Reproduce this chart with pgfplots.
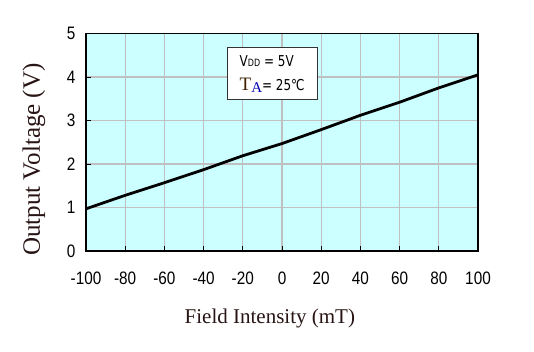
\documentclass[border=0pt]{standalone}
\usepackage{pgfplots}
\pgfplotsset{compat=1.18}
\usepackage{fontspec}
\setmainfont{Liberation Serif}
\newfontfamily\tickfont[FakeStretch=0.85]{Liberation Sans}
\newfontfamily\boxfont[FakeStretch=0.8]{DejaVu Sans}
\definecolor{plotbg}{RGB}{204,255,255}
\definecolor{gridgray}{RGB}{192,192,192}
\definecolor{labelc}{RGB}{40,20,20}
\begin{document}
\begin{tikzpicture}
\path[use as bounding box] (0pt,0pt) rectangle (534pt,-351pt);
\begin{axis}[
  at={(86pt,-251pt)}, anchor=south west,
  scale only axis, width=392pt, height=217.5pt,
  xmin=-100, xmax=100, ymin=0, ymax=5,
  xtick={-100,-80,...,100}, ytick={0,1,2,3,4,5},
  axis background/.style={fill=plotbg},
  grid=major, major grid style={gridgray, line width=1.2pt},
  axis line style={black, line width=1.2pt},
  tick style={black, line width=1pt}, major tick length=5pt,
  tick align=inside,
  xtick pos=bottom, ytick pos=left,
  /pgf/number format/assume math mode=true,
  tick label style={font=\tickfont\fontsize{18}{20}\selectfont, text=black},
  x tick label style={anchor=center, yshift=-27pt},
  y tick label style={xshift=-7pt},
  xlabel={Field Intensity (mT)},
  ylabel={Output Voltage (V)},
  xlabel style={font=\fontsize{21}{24}\selectfont, text=labelc, at={(axis description cs:0.469,0)}, anchor=center, yshift=-67pt},
  ylabel style={font=\fontsize{25}{28}\selectfont, text=labelc, at={(axis description cs:0,0.42)}, anchor=center, yshift=52pt},
  clip=false,
]
\addplot[black, line width=2.8pt, line join=round] coordinates {
(-100,0.97) (-80,1.28) (-60,1.57) (-40,1.87) (-20,2.19) (0,2.47)
(20,2.79) (40,3.12) (60,3.42) (80,3.75) (100,4.05)
};
\node[draw=black!80, line width=1pt, fill=white, minimum width=90pt, minimum height=52pt, inner sep=0pt, align=left, font=\boxfont\fontsize{15}{25}\selectfont] at (axis cs:-5,4.07) {%
  V\raisebox{0pt}{\fontsize{10}{10}\selectfont DD} = 5V\\[-1pt]
  {\fontspec{Liberation Serif}\fontsize{19}{20}\selectfont\color{black!75!orange}T\raisebox{-2pt}{\fontsize{15}{15}\selectfont\color{blue!70!black}A}}= 25℃};
\end{axis}
\end{tikzpicture}
\end{document}
